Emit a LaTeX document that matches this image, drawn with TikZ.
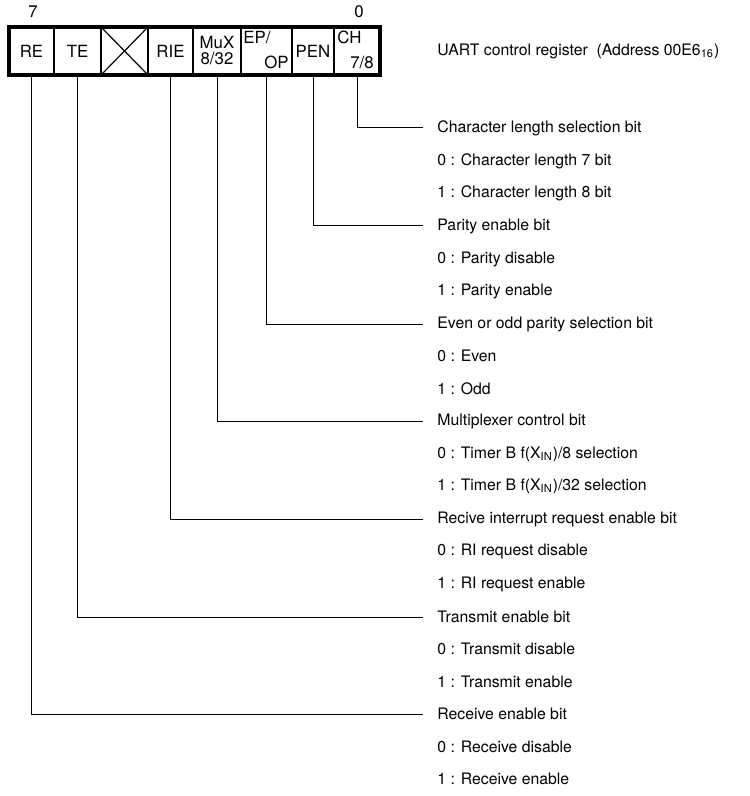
\documentclass[tikz,border=0pt]{standalone}
\usepackage{fontspec}
\setmainfont{TeX Gyre Heros}
\usetikzlibrary{positioning}

\begin{document}
\begin{tikzpicture}[
  x=0.5pt, y=-0.5pt,
  every node/.style={font=\fontsize{7.9}{9}\selectfont},
  bitcell/.style={draw, line width=1pt, minimum height=24pt, inner sep=0pt,
    outer sep=0pt, font=\fontsize{8.4}{9}\selectfont},
  cellpart/.style={inner sep=2pt, font=\fontsize{8.4}{9}\selectfont},
  desc/.style={anchor=west, inner xsep=7pt, inner ysep=1pt},
  lead/.style={line width=0.5pt}
]
  \useasboundingbox (0,0) rectangle (749,796);

  % Register cells, bit 7 to bit 0
  \node[bitcell, minimum width=22.5pt] (re) at (31.5,51) {RE};
  \node[bitcell, minimum width=23.5pt, right=0pt of re] (te) {TE};
  \node[bitcell, minimum width=23.5pt, right=0pt of te] (nc) {};
  \node[bitcell, minimum width=22.5pt, right=0pt of nc] (rie) {RIE};
  \node[bitcell, minimum width=24pt, right=0pt of rie, align=center] (mux) {MuX\\[-1pt]8/32};
  \node[bitcell, minimum width=25.5pt, right=0pt of mux] (ep) {};
  \node[bitcell, minimum width=21pt, right=0pt of ep] (pen) {PEN};
  \node[bitcell, minimum width=23pt, right=0pt of pen] (ch) {};

  % Unused bit
  \draw[line width=0.6pt] (nc.north west) -- (nc.south east);
  \draw[line width=0.6pt] (nc.south west) -- (nc.north east);

  % Two-part cell labels
  \node[cellpart, anchor=north west, inner xsep=1pt] (eptop) at (ep.north west) {EP/};
  \node[cellpart, anchor=south east, inner xsep=1.5pt, inner ysep=3pt] (epbot) at (ep.south east) {OP};
  \node[cellpart, anchor=north west, inner xsep=1.5pt] (chtop) at (ch.north west) {CH};
  \node[cellpart, anchor=south east, inner xsep=3pt, inner ysep=3pt] (chbot) at (ch.south east) {7/8};

  % Outer frame
  \draw[line width=1.6pt] (re.north west) rectangle (ch.south east);

  % Bit numbers
  \node[font=\fontsize{8.4}{9}\selectfont] (msb) at (33,12) {7};
  \node[font=\fontsize{8.4}{9}\selectfont] (lsb) at (359,12) {0};

  % Title
  \node[desc] (title) at (423,51) {UART control register\ \ (Address 00E6\textsubscript{16})};

  % Bit descriptions
  \node[desc] (chd) at (423,128) {Character length selection bit};
  \node[desc] (chz) at (423,161) {0 : Character length 7 bit};
  \node[desc] (cho) at (423,193) {1 : Character length 8 bit};

  \node[desc] (pend) at (423,226) {Parity enable bit};
  \node[desc] (penz) at (423,259) {0 : Parity disable};
  \node[desc] (peno) at (423,291) {1 : Parity enable};

  \node[desc] (epd) at (423,324) {Even or odd parity selection bit};
  \node[desc] (epz) at (423,356) {0 : Even};
  \node[desc] (epo) at (423,389) {1 : Odd};

  \node[desc] (muxd) at (423,421) {Multiplexer control bit};
  \node[desc] (muxz) at (423,454) {0 : Timer B f(X\textsubscript{IN})/8 selection};
  \node[desc] (muxo) at (423,486) {1 : Timer B f(X\textsubscript{IN})/32 selection};

  \node[desc] (ried) at (423,519) {Recive interrupt request enable bit};
  \node[desc] (riez) at (423,551) {0 : RI request disable};
  \node[desc] (rieo) at (423,584) {1 : RI request enable};

  \node[desc] (ted) at (423,617) {Transmit enable bit};
  \node[desc] (tez) at (423,649) {0 : Transmit disable};
  \node[desc] (teo) at (423,682) {1 : Transmit enable};

  \node[desc] (red) at (423,714) {Receive enable bit};
  \node[desc] (rez) at (423,747) {0 : Receive disable};
  \node[desc] (reo) at (423,779) {1 : Receive enable};

  % Leader lines
  \draw[lead] (ch.south) |- (chd.west);
  \draw[lead] (pen.south) |- (pend.west);
  \draw[lead] (ep.south) |- (epd.west);
  \draw[lead] (mux.south) |- (muxd.west);
  \draw[lead] (rie.south) |- (ried.west);
  \draw[lead] (te.south) |- (ted.west);
  \draw[lead] (re.south) |- (red.west);
\end{tikzpicture}
\end{document}
